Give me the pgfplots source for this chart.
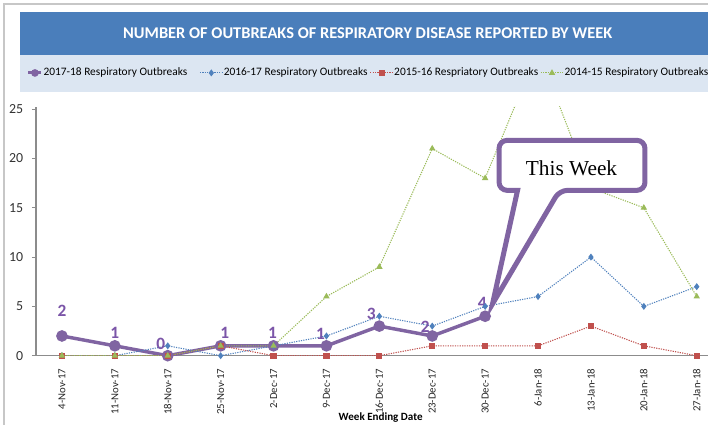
\documentclass[border=0pt]{standalone}
\usepackage{pgfplots}
\pgfplotsset{compat=1.18}
\usepackage{pgfplotstable}
\usepackage{fontspec}
\setmainfont{Carlito}
\newfontfamily\timesfont{Liberation Serif}

\definecolor{s17}{HTML}{8064A2}
\definecolor{s16}{HTML}{4F81BD}
\definecolor{s15}{HTML}{C0504D}
\definecolor{s14}{HTML}{9BBB59}
\definecolor{band}{HTML}{4A7EBB}
\definecolor{legband}{HTML}{DCE6F2}
\definecolor{lbl}{HTML}{7B55A8}

\pgfplotsset{shortleg/.style={legend image code/.code={%
  \draw[mark repeat=2,mark phase=2,##1,mark size=1.7pt,line width=2.2pt] plot coordinates {(0pt,0pt) (4.9pt,0pt) (9.75pt,0pt)};}}}

% 2017-18 season: week index, outbreaks, label shift (pt)
\pgfplotstableread{
x y dx dy
0 2 0 18.75
1 1 0 9.75
2 0 -5.25 9
3 1 3 9.75
4 1 -0.75 9.75
5 1 -4.5 9
6 3 -6 9
7 2 -5.25 6.75
8 4 -2.25 9.75
}\cur

\begin{document}
\begin{tikzpicture}
\begin{scope}[x=0.75pt,y=-0.75pt]
  \useasboundingbox (0,0) rectangle (709,425);
  \fill[white] (0,0) rectangle (709,425);
  \draw[black!22, line width=1.1pt] (4,425) -- (4,4) -- (709,4);
  \fill[band] (20,12) rectangle (709,55);
  \fill[legband] (20,55) rectangle (709,92);
  \node[text=white, font=\bfseries\fontsize{12.3}{13}\selectfont] at (368,33.5)
    {NUMBER OF OUTBREAKS OF RESPIRATORY DISEASE REPORTED BY WEEK};
\end{scope}

\begin{axis}[
    at={(27pt,-267pt)}, anchor=south west,
    scale only axis, width=504.75pt, height=186.9pt,
    xmin=-0.491, xmax=12.22, ymin=0, ymax=25.25,
    axis lines*=left,
    axis line style={-, draw=black!45, line width=0.9pt},
    xtick={0,...,12},
    xticklabels={4-Nov-17,11-Nov-17,18-Nov-17,25-Nov-17,2-Dec-17,9-Dec-17,16-Dec-17,23-Dec-17,30-Dec-17,6-Jan-18,13-Jan-18,20-Jan-18,27-Jan-18},
    xtick style={draw=none},
    ytick={0,5,...,25},
    ytick style={draw=black!45, line width=0.6pt},
    tick align=outside, major tick length=3pt,
    xticklabel style={rotate=90, anchor=east, inner sep=0pt, font=\fontsize{8.1}{9}\selectfont, text=black!85},
    xticklabel shift=6.75pt,
    yticklabel style={inner sep=0pt, font=\fontsize{10.4}{11}\selectfont, text=black!80},
    yticklabel shift=6.5pt,
    /pgf/number format/assume math mode=true,
    xlabel={Week Ending Date},
    xlabel style={at={(0.5126,-0.2488)}, anchor=center, font=\bfseries\fontsize{8.3}{9}\selectfont},
    legend columns=4,
    legend cell align=left,
    legend style={at={(-0.0134,1.1356)}, anchor=west, draw=none, fill=none,
      inner sep=0pt, outer sep=0pt, font=\fontsize{8.55}{9}\selectfont,
      /tikz/every even column/.append style={column sep=0pt},
      nodes={inner sep=0.5pt}},
]
\addplot[s17, line width=2.6pt, mark=*, mark size=3pt, shortleg,
    nodes near coords, point meta=explicit,
    visualization depends on={\thisrow{dx} \as \dx},
    visualization depends on={\thisrow{dy} \as \dy},
    nodes near coords style={anchor=center, xshift=\dx pt, yshift=\dy pt,
      font=\bfseries\fontsize{13}{13}\selectfont, text=lbl}]
  table[x=x, y=y, meta=y] {\cur};
\addlegendentry{\makebox[116.5pt][l]{2017-18 Respiratory Outbreaks}}

\addplot[s16, line width=0.8pt, dash pattern=on 0.9pt off 0.9pt, mark=diamond*, mark size=2pt, mark options={solid}]
  coordinates {(0,0) (1,0) (2,1) (3,0) (4,1) (5,2) (6,4) (7,3) (8,5) (9,6) (10,10) (11,5) (12,7)};
\addlegendentry{\makebox[109pt][l]{2016-17 Respiratory Outbreaks}}

\addplot[s15, line width=0.8pt, dash pattern=on 0.9pt off 0.9pt, mark=square*, mark size=1.9pt, mark options={solid}]
  coordinates {(0,0) (1,0) (2,0) (3,1) (4,0) (5,0) (6,0) (7,1) (8,1) (9,1) (10,3) (11,1) (12,0)};
\addlegendentry{\makebox[109pt][l]{2015-16 Respriatory Outbreaks}}

\addplot[s14, line width=0.8pt, dash pattern=on 0.9pt off 0.9pt, mark=triangle*, mark size=2pt, mark options={solid}]
  coordinates {(0,0) (1,0) (2,0) (3,1) (4,1) (5,6) (6,9) (7,21) (8,18) (9,31) (10,17) (11,15) (12,6)};
\addlegendentry{2014-15 Respiratory Outbreaks}
\end{axis}

\begin{scope}[x=0.75pt,y=-0.75pt]
  \draw[s17, line width=3.75pt, fill=white, rounded corners=6pt]
    (518,190.5) -- (499.5,190.5) -- (499.5,140.5) -- (645.5,140.5) -- (645.5,190.5) -- (560,190.5)
    [sharp corners] -- (493,304) -- cycle;
  \node[font=\timesfont\fontsize{16}{16}\selectfont] at (572,168) {This Week};
\end{scope}
\end{tikzpicture}
\end{document}
